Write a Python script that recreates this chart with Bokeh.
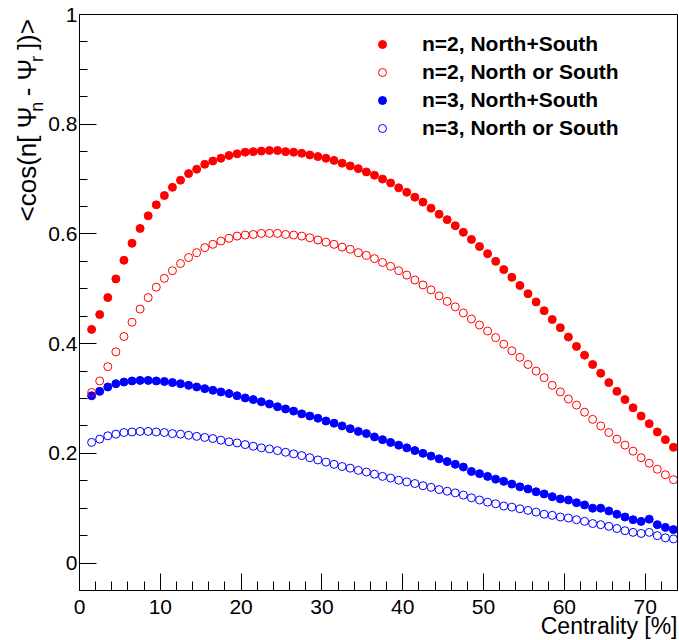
import math
from bokeh.plotting import figure
from bokeh.layouts import row
from bokeh.models import (Range1d, SingleIntervalTicker, CustomJSTickFormatter,
                          Legend, LegendItem, Title)
from bokeh.core.properties import value
from bokeh.embed import file_html
from bokeh.resources import INLINE

# ---------------- data ----------------
centrality = [1.5, 2.5, 3.5, 4.5, 5.5, 6.5, 7.5, 8.5, 9.5, 10.5,
              11.5, 12.5, 13.5, 14.5, 15.5, 16.5, 17.5, 18.5, 19.5, 20.5,
              21.5, 22.5, 23.5, 24.5, 25.5, 26.5, 27.5, 28.5, 29.5, 30.5,
              31.5, 32.5, 33.5, 34.5, 35.5, 36.5, 37.5, 38.5, 39.5, 40.5,
              41.5, 42.5, 43.5, 44.5, 45.5, 46.5, 47.5, 48.5, 49.5, 50.5,
              51.5, 52.5, 53.5, 54.5, 55.5, 56.5, 57.5, 58.5, 59.5, 60.5,
              61.5, 62.5, 63.5, 64.5, 65.5, 66.5, 67.5, 68.5, 69.5, 70.5,
              71.5, 72.5, 73.5]

n2_north_plus_south = [0.426, 0.453, 0.484, 0.518, 0.552, 0.583, 0.610, 0.633, 0.653, 0.670,
                       0.685, 0.698, 0.710, 0.718, 0.727, 0.733, 0.738, 0.743, 0.746, 0.749,
                       0.750, 0.751, 0.752, 0.752, 0.750, 0.749, 0.747, 0.744, 0.741, 0.738,
                       0.734, 0.729, 0.724, 0.719, 0.713, 0.707, 0.700, 0.693, 0.684, 0.676,
                       0.667, 0.658, 0.647, 0.636, 0.626, 0.615, 0.603, 0.590, 0.577, 0.564,
                       0.550, 0.535, 0.521, 0.506, 0.491, 0.476, 0.460, 0.444, 0.429, 0.412,
                       0.395, 0.379, 0.362, 0.346, 0.329, 0.313, 0.298, 0.283, 0.268, 0.254,
                       0.239, 0.225, 0.211]

n2_north_or_south = [0.311, 0.332, 0.358, 0.385, 0.413, 0.439, 0.463, 0.484, 0.503, 0.519,
                     0.533, 0.546, 0.557, 0.566, 0.575, 0.581, 0.587, 0.592, 0.596, 0.598,
                     0.599, 0.601, 0.601, 0.601, 0.599, 0.598, 0.596, 0.593, 0.589, 0.585,
                     0.581, 0.576, 0.572, 0.566, 0.561, 0.555, 0.548, 0.541, 0.533, 0.525,
                     0.516, 0.507, 0.498, 0.487, 0.477, 0.467, 0.456, 0.445, 0.434, 0.423,
                     0.411, 0.399, 0.387, 0.375, 0.362, 0.350, 0.338, 0.324, 0.312, 0.299,
                     0.288, 0.275, 0.262, 0.250, 0.238, 0.226, 0.215, 0.204, 0.192, 0.182,
                     0.171, 0.161, 0.152]

n3_north_plus_south = [0.305, 0.313, 0.321, 0.327, 0.330, 0.332, 0.333, 0.333, 0.332, 0.331,
                       0.329, 0.327, 0.324, 0.321, 0.318, 0.315, 0.312, 0.309, 0.305, 0.301,
                       0.298, 0.294, 0.290, 0.285, 0.281, 0.277, 0.272, 0.268, 0.264, 0.259,
                       0.255, 0.250, 0.245, 0.240, 0.236, 0.230, 0.225, 0.220, 0.215, 0.210,
                       0.205, 0.200, 0.195, 0.190, 0.185, 0.180, 0.175, 0.167, 0.163, 0.158,
                       0.153, 0.149, 0.144, 0.139, 0.135, 0.130, 0.126, 0.121, 0.117, 0.115,
                       0.110, 0.106, 0.100, 0.100, 0.095, 0.089, 0.084, 0.079, 0.076, 0.080,
                       0.070, 0.065, 0.061]

n3_north_or_south = [0.220, 0.226, 0.232, 0.235, 0.238, 0.239, 0.240, 0.240, 0.239, 0.238,
                     0.236, 0.235, 0.233, 0.231, 0.229, 0.227, 0.224, 0.221, 0.219, 0.216,
                     0.213, 0.210, 0.208, 0.205, 0.202, 0.199, 0.196, 0.192, 0.188, 0.184,
                     0.180, 0.176, 0.173, 0.169, 0.166, 0.162, 0.158, 0.155, 0.151, 0.148,
                     0.145, 0.141, 0.138, 0.134, 0.131, 0.128, 0.124, 0.119, 0.115, 0.111,
                     0.108, 0.104, 0.102, 0.099, 0.096, 0.093, 0.089, 0.087, 0.084, 0.082,
                     0.079, 0.076, 0.072, 0.070, 0.067, 0.063, 0.059, 0.056, 0.054, 0.056,
                     0.050, 0.046, 0.044]

legend_labels = ["n=2, North+South", "n=2, North or South",
                 "n=3, North+South", "n=3, North or South"]

x_title = "Centrality [%]"
# y title pieces: (text, is_subscript, advance in em of the main font, gap in em before it)
y_title_pieces = [("<cos(n[ \u03a8", False, 4.385, 0.0),
                  ("n", True, 0.389, 0.30),
                  ("- \u03a8", False, 1.411, 0.278),
                  ("r", True, 0.233, 0.05),
                  ("])>", False, 1.195, 0.278)]

FONT = "Liberation Sans"
RED = "#ff0000"
BLUE = "#0000ff"

LEFT_W = 45          # width of the strip that carries the y title
TOTAL_W, TOTAL_H = 679, 640

# ---------------- main figure ----------------
p = figure(width=TOTAL_W - LEFT_W, height=TOTAL_H,
           x_range=Range1d(0, 74), y_range=Range1d(-0.05, 1.0),
           output_backend="svg", toolbar_location=None,
           min_border_left=78 - LEFT_W, min_border_right=2,
           min_border_top=14, min_border_bottom=50)
p.grid.visible = False
p.background_fill_color = "white"
p.border_fill_color = "white"
p.outline_line_color = "black"
p.outline_line_width = 1
p.outline_line_alpha = 1.0

xa = p.xaxis[0]
xa.ticker = SingleIntervalTicker(interval=10, num_minor_ticks=5)
xa.major_tick_in = 17
xa.major_tick_out = 0
xa.minor_tick_in = 9
xa.minor_tick_out = 0
xa.major_label_standoff = 9
xa.major_label_text_font = FONT
xa.major_label_text_font_size = "21px"
xa.major_label_text_color = "black"
xa.axis_line_color = "black"
xa.major_tick_line_color = "black"
xa.minor_tick_line_color = "black"

ya = p.yaxis[0]
ya.ticker = SingleIntervalTicker(interval=0.2, num_minor_ticks=4)
ya.formatter = CustomJSTickFormatter(code="return String(Math.round(tick*10)/10);")
ya.major_tick_in = 17
ya.major_tick_out = 0
ya.minor_tick_in = 8
ya.minor_tick_out = 0
ya.major_label_standoff = 2
ya.major_label_text_font = FONT
ya.major_label_text_font_size = "21px"
ya.major_label_text_color = "black"
ya.axis_line_color = "black"
ya.major_tick_line_color = "black"
ya.minor_tick_line_color = "black"

r1 = p.scatter(centrality, n2_north_plus_south, marker="circle", size=8,
               fill_color=RED, line_color=RED)
r3 = p.scatter(centrality, n3_north_plus_south, marker="circle", size=8,
               fill_color=BLUE, line_color=BLUE)
r2 = p.scatter(centrality, n2_north_or_south, marker="circle", size=8,
               fill_color=None, line_color=RED, line_width=1)
r4 = p.scatter(centrality, n3_north_or_south, marker="circle", size=8,
               fill_color=None, line_color=BLUE, line_width=1)

legend = Legend(items=[LegendItem(label=legend_labels[0], renderers=[r1]),
                       LegendItem(label=legend_labels[1], renderers=[r2]),
                       LegendItem(label=legend_labels[2], renderers=[r3]),
                       LegendItem(label=legend_labels[3], renderers=[r4])],
                location=(293, 448), orientation="vertical",
                label_text_font=FONT, label_text_font_style="bold",
                label_text_font_size="21px", label_text_color="black",
                glyph_width=20, glyph_height=28, label_height=28,
                label_standoff=30, spacing=0, padding=0, margin=0,
                border_line_alpha=0, background_fill_alpha=0)
p.add_layout(legend)

# x title, right aligned at the end of the axis
p.add_layout(Title(text=x_title, align="right", vertical_align="bottom",
                   standoff=-12, offset=0,
                   text_font=FONT, text_font_size="23px",
                   text_font_style="normal", text_color="black"), "below")

# ---------------- strip with the y title ----------------
yt = figure(width=LEFT_W, height=TOTAL_H,
            x_range=Range1d(0, LEFT_W), y_range=Range1d(0, TOTAL_H),
            output_backend="svg", toolbar_location=None,
            x_axis_location=None, y_axis_location=None,
            min_border=0, min_border_left=0, min_border_right=0,
            min_border_top=0, min_border_bottom=0)
yt.grid.visible = False
yt.outline_line_color = None
yt.background_fill_color = "white"
yt.border_fill_color = "white"

S = 26.0
SUB = 18.0
main_anchor_x = 26.0     # rotated text, centred anchor (baseline lies ~9px to the right)
sub_anchor_x = 36.0
start = TOTAL_H - 230.0  # bottom end of the title, px from the bottom

main_x, main_y, main_t = [], [], []
sub_x, sub_y, sub_t = [], [], []
pos = start
for txt, is_sub, em, gap in y_title_pieces:
    pos += gap * S
    if is_sub:
        sub_x.append(sub_anchor_x); sub_y.append(pos); sub_t.append(txt)
    else:
        main_x.append(main_anchor_x); main_y.append(pos); main_t.append(txt)
    pos += em * S

yt.text(x=main_x, y=main_y, text=main_t, angle=math.pi / 2,
        text_font=value(FONT), text_font_size=f"{S:.0f}px",
        text_align="left", text_baseline="middle", text_color="black")
yt.text(x=sub_x, y=sub_y, text=sub_t, angle=math.pi / 2,
        text_font=value(FONT), text_font_size=f"{SUB:.0f}px",
        text_align="left", text_baseline="middle", text_color="black")

layout = row(yt, p)
open("out.html", "w").write(file_html(layout, INLINE))
